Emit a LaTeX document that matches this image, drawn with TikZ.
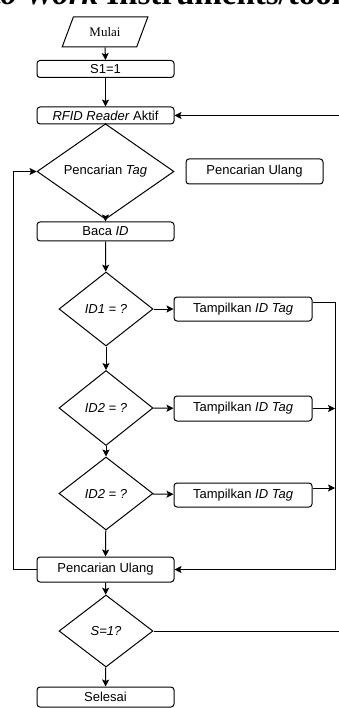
\documentclass[tikz,border=0pt]{standalone}
\usepackage{fontspec}
\setmainfont{Liberation Sans}
\newfontfamily\hurufserif{Liberation Serif}
\usetikzlibrary{shapes.geometric,arrows.meta}
\tikzset{
  kotak/.style={draw,rounded corners=3pt,minimum width=137pt,inner sep=0pt},
  belah/.style={draw,diamond,inner sep=0pt},
  panah/.style={-{Stealth[length=7pt,width=7pt,inset=1.5pt]}}
}
\begin{document}
\begin{tikzpicture}[x=1pt,y=-1pt,line width=1pt,
    every node/.style={font=\fontsize{13}{15}\selectfont}]
        \useasboundingbox (0,0) rectangle (339,708);
        \clip (0,0) rectangle (339,708);
        \node[anchor=base west,inner sep=0pt,font=\hurufserif\bfseries\fontsize{33}{35}\selectfont] (judul) at (-9,5) {\textit{to Work} Instruments/tools};
        \node[draw,trapezium,trapezium left angle=59,trapezium right angle=121,trapezium stretches=true,
          minimum width=86pt,minimum height=30pt,inner sep=0pt,font=\hurufserif\fontsize{13}{15}\selectfont] (mulai) at (105,32) {Mulai};
        \node[kotak,minimum height=17pt] (s1) at (105.5,69) {S1=1};
        \node[kotak,minimum height=17pt] (rfid) at (105.5,115.5) {\textit{RFID Reader} Aktif};
        \node[belah,minimum width=137pt,minimum height=73pt] (tag) at (105.5,171.5) {Pencarian \textit{Tag}};
        \node[kotak,minimum height=25pt] (ulangsisi) at (254.5,171.5) {Pencarian Ulang};
        \node[kotak,minimum height=19pt] (baca) at (105.5,231.5) {Baca \textit{ID}};
        \node[belah,minimum width=94pt,minimum height=74pt] (id1) at (106,309) {\textit{ID1 = ?}};
        \node[kotak,minimum width=138pt,minimum height=24pt] (tamp1) at (243,309) {Tampilkan \textit{ID Tag}};
        \node[belah,minimum width=94pt,minimum height=75pt] (id2) at (106,408) {\textit{ID2 = ?}};
        \node[kotak,minimum width=138pt,minimum height=25pt] (tamp2) at (243,408.5) {Tampilkan \textit{ID Tag}};
        \node[belah,minimum width=94pt,minimum height=73pt] (id3) at (106,493.5) {\textit{ID2 = ?}};
        \node[kotak,minimum width=138pt,minimum height=24pt] (tamp3) at (243,495) {Tampilkan \textit{ID Tag}};
        \node[kotak,minimum height=25pt] (ulang) at (105.5,569.5) {Pencarian Ulang};
        \node[belah,minimum width=94pt,minimum height=72pt] (cek) at (106,631) {\textit{S=1?}};
        \node[kotak,minimum height=20pt] (selesai) at (105.5,697) {Selesai};
        \coordinate (jalur) at (335,569.5);
        \coordinate (luar) at (345,115.5);
        \coordinate (kiri) at (13,171.5);
        \coordinate (t1) at ([yshift=7pt]tamp1.east);
        \coordinate (t3) at ([yshift=7pt]tamp3.east);
        \draw[panah] (mulai.south) -- (s1.north);
        \draw[panah] (s1) -- (rfid);
        \draw (rfid) -- (tag);
        \draw[panah] (tag) -- (baca);
        \draw[panah] (baca) -- (id1);
        \draw[panah] (id1) -- (id2);
        \draw[panah] (id2) -- (id3);
        \draw[panah] (id3) -- (ulang);
        \draw[panah] (ulang) -- (cek);
        \draw[panah] (cek) -- (selesai);
        \draw[panah] (id1) -- (tamp1);
        \draw[panah] (id2) -- (tamp2);
        \draw[panah] (id3) -- (tamp3);
        \draw[panah] (t1) -| (jalur) -- (ulang.east);
        \draw[panah] (tamp2.east) -- (tamp2.east -| jalur);
        \draw[panah] (t3) -- (t3 -| jalur);
        \draw[panah] (ulang.west) -| (kiri) -- (tag.west);
        \draw[panah] (cek.east) -| (luar) -- (rfid.east);
        \end{tikzpicture}
\end{document}
